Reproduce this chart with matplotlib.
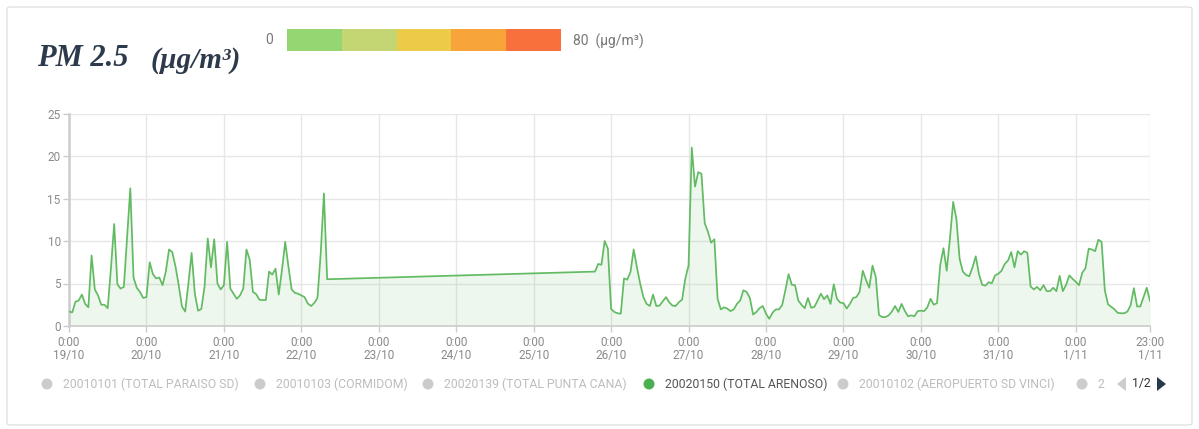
import matplotlib
matplotlib.use("Agg")
import matplotlib.pyplot as plt
from matplotlib.patches import FancyBboxPatch, Rectangle, Ellipse, Polygon
import numpy as np

# ---------------- data ----------------
# hourly PM2.5 values, hours counted from 19/10 0:00
seg1_start = 0      # 19/10 0:00
seg1_values = [
    1.7, 1.6, 2.85, 3.0, 3.7, 2.6, 2.2, 8.3, 4.3, 3.6, 2.5, 2.5,
    2.1, 6.8, 12.0, 4.9, 4.4, 4.6, 10.5, 16.2, 5.7, 4.5, 4.0, 3.3,
    3.4, 7.5, 6.1, 5.6, 5.7, 4.8, 6.4, 9.0, 8.7, 7.0, 4.8, 2.3,
    1.7, 5.0, 8.6, 3.8, 1.8, 2.0, 4.6, 10.3, 6.9, 10.2, 5.0, 4.3,
    4.8, 9.9, 4.4, 3.8, 3.2, 3.6, 4.4, 9.0, 7.8, 4.0, 3.75, 3.1,
    3.05, 3.05, 6.4, 6.05, 6.75, 3.7, 6.6, 9.9, 7.0, 4.3, 3.9, 3.8,
    3.6, 3.4, 2.65, 2.35, 2.7, 3.3, 8.5, 15.6, 5.5,
]
seg2_start = 163    # 25/10 19:00
seg2_values = [
    6.4, 7.3, 7.2, 10.0, 9.1,
    2.0, 1.65, 1.5, 1.45, 5.6, 5.45, 6.35, 9.0, 6.9, 5.0, 3.4, 2.6,
    2.35, 3.7, 2.35, 2.4, 2.9, 3.4, 2.8, 2.4, 2.35, 2.8, 3.1, 5.6,
    7.1, 21.0, 16.4, 18.1, 17.9, 12.1, 11.1, 9.8, 10.2, 3.2, 1.95, 2.2,
    2.05, 1.75, 1.95, 2.6, 3.0, 4.2, 4.0, 3.3, 1.35, 1.65, 2.1, 2.35,
    1.45, 0.85, 1.55, 1.95, 1.95, 2.45, 4.2, 6.1, 4.85, 4.8, 3.0, 2.5,
    2.1, 3.3, 2.15, 2.25, 3.0, 3.8, 3.15, 3.6, 2.6, 4.9, 3.2, 2.75,
    2.7, 2.05, 2.6, 3.3, 3.4, 4.0, 6.5, 5.4, 4.5, 7.1, 5.8, 1.3,
    1.05, 1.05, 1.25, 1.7, 2.35, 1.65, 2.6, 1.8, 1.15, 1.25, 1.15, 1.75,
    1.8, 1.75, 2.2, 3.2, 2.5, 2.7, 7.2, 9.15, 6.5, 10.3, 14.6, 12.6,
    7.9, 6.4, 6.0, 5.85, 6.9, 8.2, 6.1, 4.85, 4.75, 5.15, 5.05, 5.95,
    6.15, 6.5, 7.3, 7.7, 8.7, 6.9, 8.8, 8.4, 8.8, 8.6, 4.65, 4.3,
    4.6, 4.2, 4.8, 4.1, 4.1, 4.5, 4.1, 5.9, 4.1, 4.85, 5.95, 5.55,
    5.2, 4.8, 6.25, 6.8, 9.1, 9.0, 8.8, 10.15, 9.9, 4.2, 2.55, 2.25,
    1.95, 1.55, 1.5, 1.5, 1.7, 2.45, 4.45, 2.3, 2.3, 3.4, 4.5, 2.95,
]

tick_hours = [0, 24, 48, 72, 96, 120, 144, 168, 192, 216, 240, 264, 288, 312, 335]
tick_labels = ["0:00\n19/10", "0:00\n20/10", "0:00\n21/10", "0:00\n22/10",
               "0:00\n23/10", "0:00\n24/10", "0:00\n25/10", "0:00\n26/10",
               "0:00\n27/10", "0:00\n28/10", "0:00\n29/10", "0:00\n30/10",
               "0:00\n31/10", "0:00\n1/11", "23:00\n1/11"]
y_ticks = [0, 5, 10, 15, 20, 25]

scale_colors = ["#95d672", "#c3d673", "#edcb48", "#f7a53a", "#f8703b"]
scale_min, scale_max = "0", "80  (µg/m³)"

legend_names = ["20010101 (TOTAL PARAISO SD)", "20010103 (CORMIDOM)",
                "20020139 (TOTAL PUNTA CANA)", "20020150 (TOTAL ARENOSO)",
                "20010102 (AEROPUERTO SD VINCI)", "2"]
legend_active = [False, False, False, True, False, False]

# ---------------- build series ----------------
hours = np.concatenate([seg1_start + np.arange(len(seg1_values)),
                        seg2_start + np.arange(len(seg2_values))])
values = np.array(seg1_values + seg2_values)

W, H = 1199, 429
fig = plt.figure(figsize=(W / 100, H / 100), dpi=100)
fig.patch.set_facecolor("white")

def fx(px):
    return px / W

def fy(py):
    return 1 - py / H

# outer card border
card = FancyBboxPatch((fx(7), fy(425)), fx(1185), (418) / H,
                      boxstyle="round,pad=0,rounding_size=0.004",
                      transform=fig.transFigure, facecolor="none",
                      edgecolor="#e2e2e2", linewidth=1.0, zorder=-5)
fig.add_artist(card)

# title
fig.text(fx(37), fy(58), "PM 2.5", family="Liberation Serif", fontsize=22,
         fontweight="bold", fontstyle="italic", color="#2d3a4b", va="center", ha="left")
fig.text(fx(151), fy(60), "(µg/m³)", family="Liberation Serif", fontsize=21,
         fontweight="bold", fontstyle="italic", color="#2d3a4b", va="center", ha="left")

# colour scale
x0, seg_w = 287, 54.8
for i, c in enumerate(scale_colors):
    fig.add_artist(Rectangle((fx(x0 + i * seg_w), fy(51)), fx(seg_w), 22 / H,
                             transform=fig.transFigure, facecolor=c,
                             edgecolor="none"))
fig.text(fx(269), fy(40), scale_min, family="Roboto", fontsize=10, color="#777777",
         va="center", ha="center")
fig.text(fx(573), fy(41), scale_max, family="Roboto", fontsize=10, color="#777777",
         va="center", ha="left")

# axes
ax = fig.add_axes([fx(69), fy(326), fx(1150 - 69), (326 - 113.5) / H])
ax.patch.set_alpha(0)
ax.fill_between(hours, values, 0, color="#5cb85c", alpha=0.11, linewidth=0, zorder=2)
ax.plot(hours, values, color="#62bb62", linewidth=1.25, zorder=3)

ax.set_xlim(0, 335)
ax.set_ylim(0, 25)
ax.set_xticks(tick_hours)
ax.set_xticklabels(tick_labels)
ax.set_yticks(y_ticks)
ax.grid(True, color="#e7e7e7", linewidth=1.0, zorder=0)
ax.set_axisbelow(True)
for side in ["top", "right"]:
    ax.spines[side].set_visible(False)
ax.spines["left"].set_color("#cccccc")
ax.spines["left"].set_linewidth(1.8)
ax.spines["bottom"].set_color("#cccccc")
ax.spines["bottom"].set_linewidth(1.2)
ax.tick_params(axis="both", colors="#cccccc", labelcolor="#8a8a8a", labelsize=8.5,
               length=4, width=1)
for lab in ax.get_xticklabels() + ax.get_yticklabels():
    lab.set_family("Roboto")
    lab.set_linespacing(1.0)
ax.tick_params(axis="x", pad=3)
ax.tick_params(axis="y", pad=2)

# legend (bottom)
dot_x = [47, 260, 428, 649, 843, 1082]
ly = 384
for xd, name, act in zip(dot_x, legend_names, legend_active):
    col = "#4caf50" if act else "#cccccc"
    fig.add_artist(Ellipse((fx(xd), fy(ly)), 11 / W, 11 / H,
                           transform=fig.transFigure, facecolor=col,
                           edgecolor="none"))
    fig.text(fx(xd + 16), fy(ly), name, family="Roboto", fontsize=8.8,
             color="#555555" if act else "#bdbdbd", va="center", ha="left")

# pager
fig.add_artist(Polygon([[fx(1117), fy(384)], [fx(1126), fy(377)], [fx(1126), fy(391)]],
                       closed=True, transform=fig.transFigure,
                       facecolor="#cccccc", edgecolor="none"))
fig.text(fx(1132), fy(384), "1/2", family="Roboto", fontsize=8.8, color="#333333",
         va="center", ha="left")
fig.add_artist(Polygon([[fx(1157), fy(377)], [fx(1166), fy(384)], [fx(1157), fy(391)]],
                       closed=True, transform=fig.transFigure,
                       facecolor="#26374f", edgecolor="none"))

fig.savefig("out.png", dpi=100)
